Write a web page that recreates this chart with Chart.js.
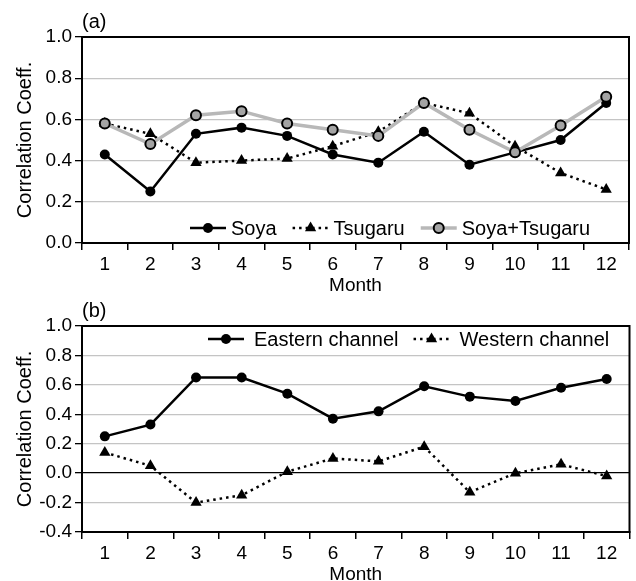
<!DOCTYPE html>
<html>
<head>
<meta charset="utf-8">
<script src="https://cdn.jsdelivr.net/npm/chart.js@4.4.0/dist/chart.umd.min.js"></script>
<style>
  body { margin: 0; background: #fff; overflow: hidden; }
  #wrap { position: relative; width: 636px; height: 581px; overflow: hidden; }
  .box { position: absolute; left: 0; width: 636px; }
</style>
</head>
<body>
<div id="wrap">
  <div class="box" style="top:0; height:297px;"><canvas id="chartA"></canvas></div>
  <div class="box" style="top:289px; height:297px;"><canvas id="chartB"></canvas></div>
</div>
<script>
const meses = ['1', '2', '3', '4', '5', '6', '7', '8', '9', '10', '11', '12'];

// painel (a)
const soya = [0.43, 0.25, 0.53, 0.56, 0.52, 0.43, 0.39, 0.54, 0.38, 0.44, 0.50, 0.68];
const tsugaru = [0.58, 0.53, 0.39, 0.40, 0.41, 0.47, 0.54, 0.68, 0.63, 0.47, 0.34, 0.26];
const soyaTsugaru = [0.58, 0.48, 0.62, 0.64, 0.58, 0.55, 0.52, 0.68, 0.55, 0.44, 0.57, 0.71];

// painel (b)
const eastern = [0.25, 0.33, 0.65, 0.65, 0.54, 0.37, 0.42, 0.59, 0.52, 0.49, 0.58, 0.64];
const western = [0.14, 0.05, -0.20, -0.15, 0.01, 0.10, 0.08, 0.18, -0.13, 0.00, 0.06, -0.02];

const FONTE = 'Arial, "Liberation Sans", sans-serif';

function estiloSerie(tipo) {
    if (tipo === 'cheia') {
        return { borderColor: '#000', backgroundColor: '#000', borderWidth: 2.5,
                 pointStyle: 'circle', pointRadius: 5, pointBorderWidth: 0 };
    }
    if (tipo === 'pontilhada') {
        return { borderColor: '#000', backgroundColor: '#000', borderWidth: 2.5, borderDash: [2.5, 4],
                 pointStyle: 'triangle', pointRadius: 6.5, pointBorderWidth: 0 };
    }
    return { borderColor: '#b8b8b8', backgroundColor: '#a4a4a4', borderWidth: 3.5,
             pointStyle: 'circle', pointRadius: 5, pointBorderWidth: 2, pointBorderColor: '#000' };
}

// legenda desenhada dentro da area do grafico, com amostra de linha + marcador
const legendaPlugin = {
    id: 'legendaLinha',
    afterDraw(chart, args, opts) {
        const ctx = chart.ctx;
        const area = chart.chartArea;
        ctx.save();
        // moldura
        ctx.strokeStyle = '#000';
        ctx.lineWidth = 2;
        ctx.strokeRect(area.left, area.top, area.right - area.left, area.bottom - area.top);
        // rotulo do painel
        ctx.fillStyle = '#000';
        ctx.font = '20px ' + FONTE;
        ctx.textBaseline = 'middle';
        ctx.textAlign = 'left';
        ctx.fillText(opts.painel, area.left, area.top - 15);

        let x = area.left + opts.inicio;
        const y = opts.emBaixo ? area.bottom - 15 : area.top + 13;
        chart.data.datasets.forEach((ds, i) => {
            const w = opts.amostra;
            ctx.save();
            ctx.strokeStyle = ds.borderColor;
            ctx.lineWidth = ds.borderWidth;
            ctx.setLineDash(ds.borderDash || []);
            ctx.beginPath();
            ctx.moveTo(x, y);
            ctx.lineTo(x + w, y);
            ctx.stroke();
            ctx.restore();
            ctx.save();
            ctx.fillStyle = ds.backgroundColor;
            ctx.strokeStyle = ds.pointBorderColor || ds.backgroundColor;
            ctx.lineWidth = ds.pointBorderWidth || 0;
            Chart.helpers.drawPoint(ctx, {
                pointStyle: ds.pointStyle,
                radius: ds.pointRadius,
                rotation: 0,
                borderWidth: ds.pointBorderWidth
            }, x + w / 2, y);
            ctx.restore();
            x += w + opts.folga;
            ctx.fillStyle = '#000';
            ctx.font = '20px ' + FONTE;
            ctx.fillText(ds.label, x, y + 1);
            x += ctx.measureText(ds.label).width + opts.entre;
        });
        ctx.restore();
    }
};

function opcoes(min, max, painel, legenda) {
    return {
        responsive: true,
        maintainAspectRatio: false,
        animation: false,
        layout: { padding: { top: 37, right: 2, left: 13, bottom: 0 } },
        plugins: {
            legend: { display: false },
            tooltip: { enabled: false },
            legendaLinha: Object.assign({ painel: painel }, legenda)
        },
        scales: {
            x: {
                offset: true,
                afterFit: function(scale) { scale.height = 54; },
                grid: {
                    offset: true,
                    drawOnChartArea: false,
                    drawTicks: true,
                    tickLength: 7,
                    tickColor: '#000',
                    lineWidth: 1.5
                },
                border: { color: '#000', width: 2 },
                ticks: { color: '#000', padding: 3, font: { family: FONTE, size: 19 } },
                title: { display: true, text: 'Month', color: '#000', padding: 0,
                         font: { family: FONTE, size: 19 } }
            },
            y: {
                min: min,
                max: max,
                afterFit: function(scale) { scale.width = 69; },
                grid: {
                    color: function(context) {
                        return context.tick && Math.abs(context.tick.value) < 1e-9 ? '#000' : '#c4c4c4';
                    },
                    lineWidth: 1.3,
                    drawTicks: true,
                    tickLength: 7,
                    tickColor: '#000'
                },
                border: { color: '#000', width: 2 },
                ticks: {
                    stepSize: 0.2,
                    color: '#000',
                    padding: 3,
                    font: { family: FONTE, size: 19 },
                    callback: function(value) {
                        const v = Math.abs(value) < 1e-9 ? 0 : value;
                        return Number(v).toFixed(1);
                    }
                },
                title: { display: true, text: 'Correlation Coeff.', color: '#000', padding: 0,
                         font: { family: FONTE, size: 20 } }
            }
        }
    };
}

document.addEventListener('DOMContentLoaded', function() {
    new Chart(document.getElementById('chartA').getContext('2d'), {
        type: 'line',
        data: {
            labels: meses,
            datasets: [
                Object.assign({ label: 'Soya', data: soya, order: 2 }, estiloSerie('cheia')),
                Object.assign({ label: 'Tsugaru', data: tsugaru, order: 3 }, estiloSerie('pontilhada')),
                Object.assign({ label: 'Soya+Tsugaru', data: soyaTsugaru, order: 1 }, estiloSerie('cinza'))
            ]
        },
        options: opcoes(0, 1, '(a)', { emBaixo: true, inicio: 108, amostra: 36, folga: 5, entre: 16 }),
        plugins: [legendaPlugin]
    });

    new Chart(document.getElementById('chartB').getContext('2d'), {
        type: 'line',
        data: {
            labels: meses,
            datasets: [
                Object.assign({ label: 'Eastern channel', data: eastern }, estiloSerie('cheia')),
                Object.assign({ label: 'Western channel', data: western }, estiloSerie('pontilhada'))
            ]
        },
        options: opcoes(-0.4, 1, '(b)', { emBaixo: false, inicio: 126, amostra: 36, folga: 10, entre: 15 }),
        plugins: [legendaPlugin]
    });
});
</script>
</body>
</html>
